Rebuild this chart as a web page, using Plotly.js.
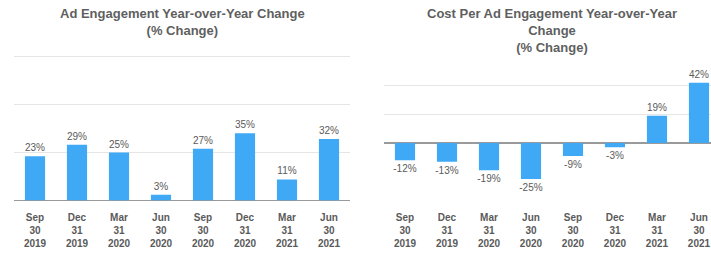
<!DOCTYPE html>
<html>
<head>
<meta charset="utf-8">
<script src="https://cdn.plot.ly/plotly-3.0.1.min.js"></script>
<style>
html,body{margin:0;padding:0;background:#fff;}
#chart{width:711px;height:254px;}
</style>
</head>
<body>
<div id="chart"></div>
<script>
const categories = ['Sep<br>30<br>2019','Dec<br>31<br>2019','Mar<br>31<br>2020','Jun<br>30<br>2020','Sep<br>30<br>2020','Dec<br>31<br>2020','Mar<br>31<br>2021','Jun<br>30<br>2021'];
const engagementChange = [23, 29, 25, 3, 27, 35, 11, 32];
const costPerEngagementChange = [-12, -13, -19, -25, -9, -3, 19, 42];
const leftTitle = 'Ad Engagement Year-over-Year Change<br>(% Change)';
const rightTitle = 'Cost Per Ad Engagement Year-over-Year<br>Change<br>(% Change)';

const W = 711, H = 254;
const barColor = '#3fa9f6';
const textColor = '#5a5a5a';
const font = 'Liberation Sans, Arial, sans-serif';

const yBottom = (H - 200.5) / H, yTop = (H - 50) / H;

const traces = [
  {type:'bar', x:categories, y:engagementChange, xaxis:'x', yaxis:'y',
   marker:{color:barColor}, text:engagementChange.map(v=>v+'%'), textposition:'outside',
   constraintext:'none',
   textfont:{size:10, color:textColor, family:font}, cliponaxis:false, hoverinfo:'skip'},
  {type:'bar', x:categories, y:costPerEngagementChange, xaxis:'x2', yaxis:'y2',
   marker:{color:barColor}, text:costPerEngagementChange.map(v=>v+'%'), textposition:'outside',
   constraintext:'none',
   textfont:{size:10, color:textColor, family:font}, cliponaxis:false, hoverinfo:'skip'}
];

const tickFont = {size:10, color:textColor, family:font, weight:'bold'};
const layout = {
  width:W, height:H, margin:{l:0,r:0,t:0,b:0},
  paper_bgcolor:'#fff', plot_bgcolor:'#fff',
  showlegend:false, bargap:0.52,
  font:{family:font, color:textColor},
  xaxis:{domain:[14/W, 350/W], anchor:'y', range:[-0.5,7.5], type:'category',
    tickfont:tickFont, showgrid:false, ticks:'', showline:false, fixedrange:true, ticklabelstandoff:9},
  yaxis:{domain:[yBottom, yTop], anchor:'x', range:[0,78.4], tickvals:[25,50,75],
    showticklabels:false, gridcolor:'#e6e6e6', gridwidth:1, zeroline:true,
    zerolinecolor:'#9a9a9a', zerolinewidth:1.5, fixedrange:true},
  xaxis2:{domain:[384/W, 1], anchor:'y2', range:[-0.5,7.286], type:'category',
    tickfont:tickFont, showgrid:false, ticks:'', showline:false, fixedrange:true, ticklabelstandoff:9},
  yaxis2:{domain:[yBottom, yTop], anchor:'x2', range:[-40,64.7], tickvals:[-40,20,40],
    showticklabels:false, gridcolor:'#e6e6e6', gridwidth:1, zeroline:true,
    zerolinecolor:'#9a9a9a', zerolinewidth:1.5, fixedrange:true},
  annotations:[
    {text:leftTitle, xref:'paper', yref:'paper', x:182/W, y:1-4/H, xanchor:'center', yanchor:'top',
     showarrow:false, font:{size:13, color:'#5f5f5f', family:font, weight:'bold'}},
    {text:rightTitle, xref:'paper', yref:'paper', x:552/W, y:1-4/H, xanchor:'center', yanchor:'top',
     showarrow:false, font:{size:13, color:'#5f5f5f', family:font, weight:'bold'}}
  ]
};

Plotly.newPlot('chart', traces, layout, {displayModeBar:false, staticPlot:true});
</script>
</body>
</html>
